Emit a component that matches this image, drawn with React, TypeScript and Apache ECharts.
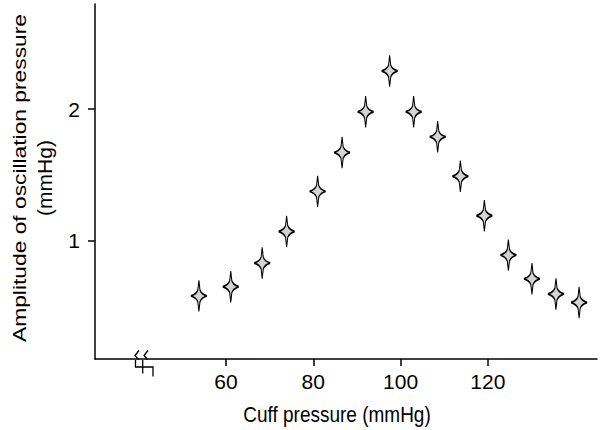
import React, { useEffect, useRef } from "react";
import * as echarts from "echarts";

// Cuff pressure (mmHg) and amplitude of oscillation pressure (mmHg)
const cuffPressure = [53.8, 61.1, 68.3, 73.9, 81.0, 86.6, 92.0, 97.5, 103.0, 108.5, 113.7, 119.2, 124.7, 130.1, 135.6, 140.9];
const amplitude = [0.58, 0.65, 0.83, 1.07, 1.375, 1.67, 1.98, 2.29, 1.98, 1.79, 1.49, 1.19, 0.89, 0.71, 0.595, 0.53];

const xTicks = [60, 80, 100, 120];
const yTicks = [1, 2];

const xTitle = "Cuff pressure (mmHg)";
const yTitleLine1 = "Amplitude of oscillation pressure";
const yTitleLine2 = "(mmHg)";

const FONT = "'Liberation Sans', Arial, sans-serif";
const STAR =
  "path://M0,-16 L1.1,-6 Q2.5,-2 8,0 Q2.5,2 1.1,6 L0,16 L-1.1,6 Q-2.5,2 -8,0 Q-2.5,-2 -1.1,-6 Z";

export default function App() {
  const ref = useRef<HTMLDivElement>(null);
  useEffect(() => {
    if (!ref.current) return;
    const chart = echarts.init(ref.current, null, { renderer: "svg" });
    const axisLine = { show: true, lineStyle: { color: "#000", width: 1.5 } };
    const data = cuffPressure.map((x, i) => [x, amplitude[i]]);
    chart.setOption({
      animation: false,
      backgroundColor: "#fff",
      grid: { left: 95, right: 11, top: 4, bottom: 71, containLabel: false, outerBoundsMode: "none" },
      xAxis: {
        type: "value",
        min: 30,
        max: 145,
        axisLine,
        splitLine: { show: false },
        axisTick: { show: true, length: 7, lineStyle: { color: "#000", width: 1.5 }, customValues: xTicks },
        axisLabel: { customValues: xTicks, fontSize: 21, fontFamily: FONT, color: "#000", margin: 12 },
      },
      yAxis: {
        type: "value",
        min: 0.1,
        max: 2.8,
        axisLine,
        splitLine: { show: false },
        axisTick: { show: true, length: 7, lineStyle: { color: "#000", width: 1.5 }, customValues: yTicks },
        axisLabel: { customValues: yTicks, fontSize: 21, fontFamily: FONT, color: "#000", margin: 15 },
      },
      graphic: [
        {
          type: "text",
          x: 337,
          y: 414,
          scaleY: 1.15,
          style: { text: xTitle, fontSize: 19, fontFamily: FONT, fill: "#000", align: "center", verticalAlign: "middle" },
        },
        {
          type: "text",
          x: 19,
          y: 178,
          rotation: Math.PI / 2,
          scaleX: 1.2,
          style: { text: yTitleLine1, fontSize: 19, fontFamily: FONT, fill: "#000", align: "center", verticalAlign: "middle" },
        },
        {
          type: "text",
          x: 45,
          y: 178,
          rotation: Math.PI / 2,
          scaleX: 1.05,
          style: { text: yTitleLine2, fontSize: 20, fontFamily: FONT, fill: "#000", align: "center", verticalAlign: "middle" },
        },
        // axis break mark
        {
          type: "polyline",
          shape: { points: [[139, 350.5], [135, 355.5], [138.5, 359.5]] },
          style: { stroke: "#000", lineWidth: 1.3, fill: "none" },
        },
        {
          type: "polyline",
          shape: { points: [[148, 350.5], [144, 355.5], [147.5, 359.5]] },
          style: { stroke: "#000", lineWidth: 1.3, fill: "none" },
        },
        {
          type: "polyline",
          shape: { points: [[135.5, 360], [135.5, 367], [153, 367], [153, 376.5]] },
          style: { stroke: "#000", lineWidth: 1.3, fill: "none" },
        },
        {
          type: "line",
          shape: { x1: 142.7, y1: 360, x2: 142.7, y2: 373.5 },
          style: { stroke: "#000", lineWidth: 1.3 },
        },
      ],
      series: [
        {
          type: "scatter",
          data,
          symbol: STAR,
          symbolSize: [16, 31],
          itemStyle: { color: "#d4d4d4", borderColor: "#000", borderWidth: 1.4, opacity: 1 },
        },
      ],
    });
    return () => chart.dispose();
  }, []);
  return (
    <div
      ref={ref}
      style={{ position: "fixed", left: 0, top: 0, width: 608, height: 430 }}
    />
  );
}
